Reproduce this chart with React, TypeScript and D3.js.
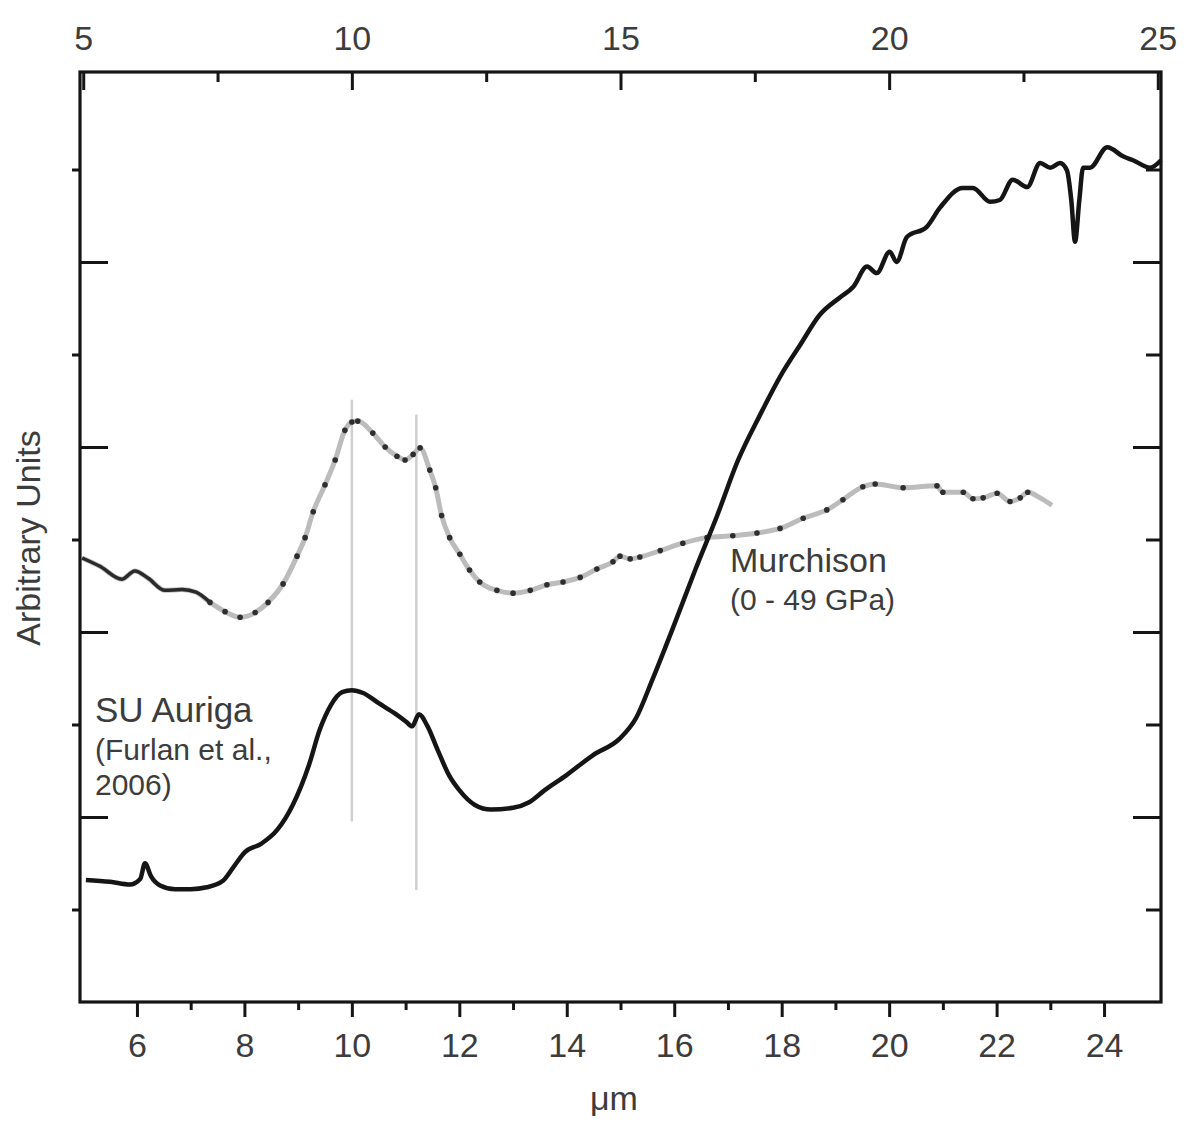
import React, { useRef, useEffect } from 'react';
import * as d3 from 'd3';

// SU Auriga spectrum (Furlan et al., 2006), wavelength in µm, arbitrary flux
const suWavelength = [5.05, 5.5, 5.87, 6.06, 6.15, 6.26, 6.43, 6.71, 7.0, 7.3, 7.6, 7.81, 8.01, 8.31, 8.61, 8.9, 9.2, 9.4, 9.61, 9.82, 10.0, 10.21, 10.5, 10.8, 11.01, 11.12, 11.25, 11.4, 11.6, 11.81, 12.0, 12.29, 12.59, 13.0, 13.3, 13.59, 13.99, 14.49, 14.99, 15.29, 15.59, 16.0, 16.39, 16.8, 17.19, 17.6, 17.99, 18.34, 18.71, 19.09, 19.33, 19.59, 19.77, 20.01, 20.14, 20.33, 20.7, 20.95, 21.37, 21.56, 21.88, 22.06, 22.3, 22.57, 22.81, 23.0, 23.18, 23.31, 23.39, 23.46, 23.54, 23.61, 23.74, 24.06, 24.36, 24.54, 24.86, 25.06];
const suFlux = [1.32, 1.3, 1.27, 1.33, 1.5, 1.36, 1.26, 1.22, 1.22, 1.24, 1.31, 1.47, 1.62, 1.71, 1.86, 2.13, 2.56, 2.94, 3.21, 3.35, 3.37, 3.34, 3.23, 3.12, 3.03, 2.98, 3.11, 2.99, 2.72, 2.45, 2.29, 2.13, 2.08, 2.1, 2.16, 2.29, 2.45, 2.67, 2.85, 3.07, 3.48, 4.08, 4.67, 5.26, 5.86, 6.35, 6.78, 7.1, 7.43, 7.62, 7.73, 7.95, 7.88, 8.11, 8.0, 8.27, 8.38, 8.59, 8.8, 8.8, 8.65, 8.67, 8.89, 8.81, 9.07, 9.02, 9.07, 8.99, 8.67, 8.22, 8.67, 9.02, 9.02, 9.24, 9.14, 9.1, 9.02, 9.1];

// Murchison (0 - 49 GPa)
const murWavelength = [4.98, 5.31, 5.72, 5.96, 6.21, 6.52, 6.84, 7.1, 7.36, 7.64, 7.92, 8.2, 8.44, 8.72, 8.98, 9.13, 9.28, 9.5, 9.69, 9.87, 10.0, 10.11, 10.39, 10.62, 10.84, 10.99, 11.14, 11.27, 11.45, 11.56, 11.67, 11.82, 12.01, 12.19, 12.38, 12.7, 13.0, 13.32, 13.63, 13.93, 14.25, 14.56, 14.86, 14.99, 15.18, 15.36, 15.74, 16.16, 16.61, 17.09, 17.54, 17.97, 18.4, 18.84, 19.14, 19.51, 19.74, 20.26, 20.89, 21.0, 21.38, 21.56, 21.75, 22.01, 22.25, 22.44, 22.58, 22.81, 23.03];
const murFlux = [4.8, 4.71, 4.57, 4.66, 4.58, 4.45, 4.46, 4.43, 4.32, 4.22, 4.16, 4.21, 4.32, 4.52, 4.82, 5.02, 5.3, 5.59, 5.86, 6.18, 6.27, 6.28, 6.15, 6.0, 5.9, 5.86, 5.92, 5.99, 5.75, 5.56, 5.26, 5.02, 4.84, 4.67, 4.54, 4.45, 4.42, 4.45, 4.51, 4.54, 4.59, 4.68, 4.76, 4.82, 4.79, 4.81, 4.88, 4.96, 5.02, 5.04, 5.07, 5.12, 5.23, 5.32, 5.43, 5.57, 5.6, 5.56, 5.58, 5.51, 5.51, 5.44, 5.45, 5.5, 5.41, 5.45, 5.51, 5.45, 5.37];

// silicate band markers
const bandCenters = [10.0, 11.2];
const bandLow = [1.95, 1.21];
const bandHigh = [6.51, 6.35];

const bottomMajor = [6, 8, 10, 12, 14, 16, 18, 20, 22, 24];
const bottomMinor = [7, 9, 11, 13, 15, 17, 19, 21, 23];
const topMajor = [5, 10, 15, 20, 25];
const topMinor = [7.5, 12.5, 17.5, 22.5];
const yMajor = [2, 4, 6, 8];
const yMinor = [1, 3, 5, 7, 9];

const W = 1184;
const H = 1124;
const frame = { left: 80, right: 1161, top: 72, bottom: 1002 };
const FONT = '"Liberation Sans", Arial, Helvetica, sans-serif';
const TEXT = '#3c3c3c';
const INK = '#151515';

const App = () => {
    const svgRef = useRef(null);

    const x = d3.scaleLinear().domain([4.94, 25.06]).range([frame.left, frame.right]);
    const y = d3.scaleLinear().domain([0, 10.054]).range([frame.bottom, frame.top]);

    const line = d3.line().x((d) => x(d[0])).y((d) => y(d[1])).curve(d3.curveMonotoneX);

    const su = suWavelength.map((w, i) => [w, suFlux[i]]);
    const mur = murWavelength.map((w, i) => [w, murFlux[i]]);
    const murSolid = mur.filter((d) => d[0] <= 7.4);
    const murDots = mur.filter((d) => d[0] > 7.3 && d[0] < 22.7);

    useEffect(() => {
        const svg = d3.select(svgRef.current);
        svg.selectAll('.axis').remove();
        const g = svg.append('g').attr('class', 'axis');
        const blank = () => '';

        const addAxis = (axis, transform) => {
            const a = g.append('g').attr('transform', transform).call(axis);
            a.select('.domain').remove();
            a.selectAll('line').attr('stroke', INK).attr('stroke-width', 3);
            a.selectAll('text')
                .attr('font-family', FONT)
                .attr('font-size', 34)
                .attr('fill', TEXT);
        };

        const bottom = `translate(0,${frame.bottom})`;
        const top = `translate(0,${frame.top})`;
        const left = `translate(${frame.left},0)`;
        const right = `translate(${frame.right},0)`;

        addAxis(d3.axisBottom(x).tickValues(bottomMajor).tickSize(15).tickPadding(16).tickFormat(d3.format('d')), bottom);
        addAxis(d3.axisBottom(x).tickValues(bottomMinor).tickSize(8).tickFormat(blank), bottom);
        addAxis(d3.axisTop(x).tickValues(topMajor).tickSize(-18).tickPadding(22).tickFormat(d3.format('d')), top);
        addAxis(d3.axisTop(x).tickValues(topMinor).tickSize(-10).tickFormat(blank), top);
        addAxis(d3.axisLeft(y).tickValues(yMinor).tickSize(8).tickFormat(blank), left);
        addAxis(d3.axisLeft(y).tickValues(yMajor).tickSize(-28).tickFormat(blank), left);
        addAxis(d3.axisRight(y).tickValues(yMinor).tickSize(-15).tickFormat(blank), right);
        addAxis(d3.axisRight(y).tickValues(yMajor).tickSize(-28).tickFormat(blank), right);
    }, []);

    return (
        <svg
            ref={svgRef}
            width={W}
            height={H}
            style={{ position: 'absolute', left: 0, top: 0, background: '#fff' }}
        >
            <rect x={0} y={0} width={W} height={H} fill="#fff" />

            {bandCenters.map((c, i) => (
                <line
                    key={c}
                    x1={x(c)}
                    x2={x(c)}
                    y1={y(bandLow[i])}
                    y2={y(bandHigh[i])}
                    stroke="#cfcfcf"
                    strokeWidth={2.5}
                />
            ))}

            <path d={line(mur)} fill="none" stroke="#bcbcbc" strokeWidth={5} strokeLinejoin="round" />
            <path d={line(murSolid)} fill="none" stroke="#2a2a2a" strokeWidth={3.5} strokeLinejoin="round" />
            {murDots.map((d, i) => (
                <circle key={i} cx={x(d[0])} cy={y(d[1])} r={2.8} fill="#2e2e2e" />
            ))}

            <path d={line(su)} fill="none" stroke={INK} strokeWidth={4.5} strokeLinejoin="round" />

            <rect
                x={frame.left}
                y={frame.top}
                width={frame.right - frame.left}
                height={frame.bottom - frame.top}
                fill="none"
                stroke={INK}
                strokeWidth={3.2}
            />

            <g fontFamily={FONT} fill={TEXT}>
                <text x={95} y={722} fontSize={35}>SU Auriga</text>
                <text x={95} y={760} fontSize={30}>(Furlan et al.,</text>
                <text x={95} y={795} fontSize={30}>2006)</text>
                <text x={730} y={572} fontSize={34}>Murchison</text>
                <text x={730} y={610} fontSize={30}>(0 - 49 GPa)</text>
                <text transform="translate(40,538) rotate(-90)" textAnchor="middle" fontSize={34}>
                    Arbitrary Units
                </text>
                <text x={614} y={1110} textAnchor="middle" fontSize={34}>μm</text>
            </g>
        </svg>
    );
};

export default App;
